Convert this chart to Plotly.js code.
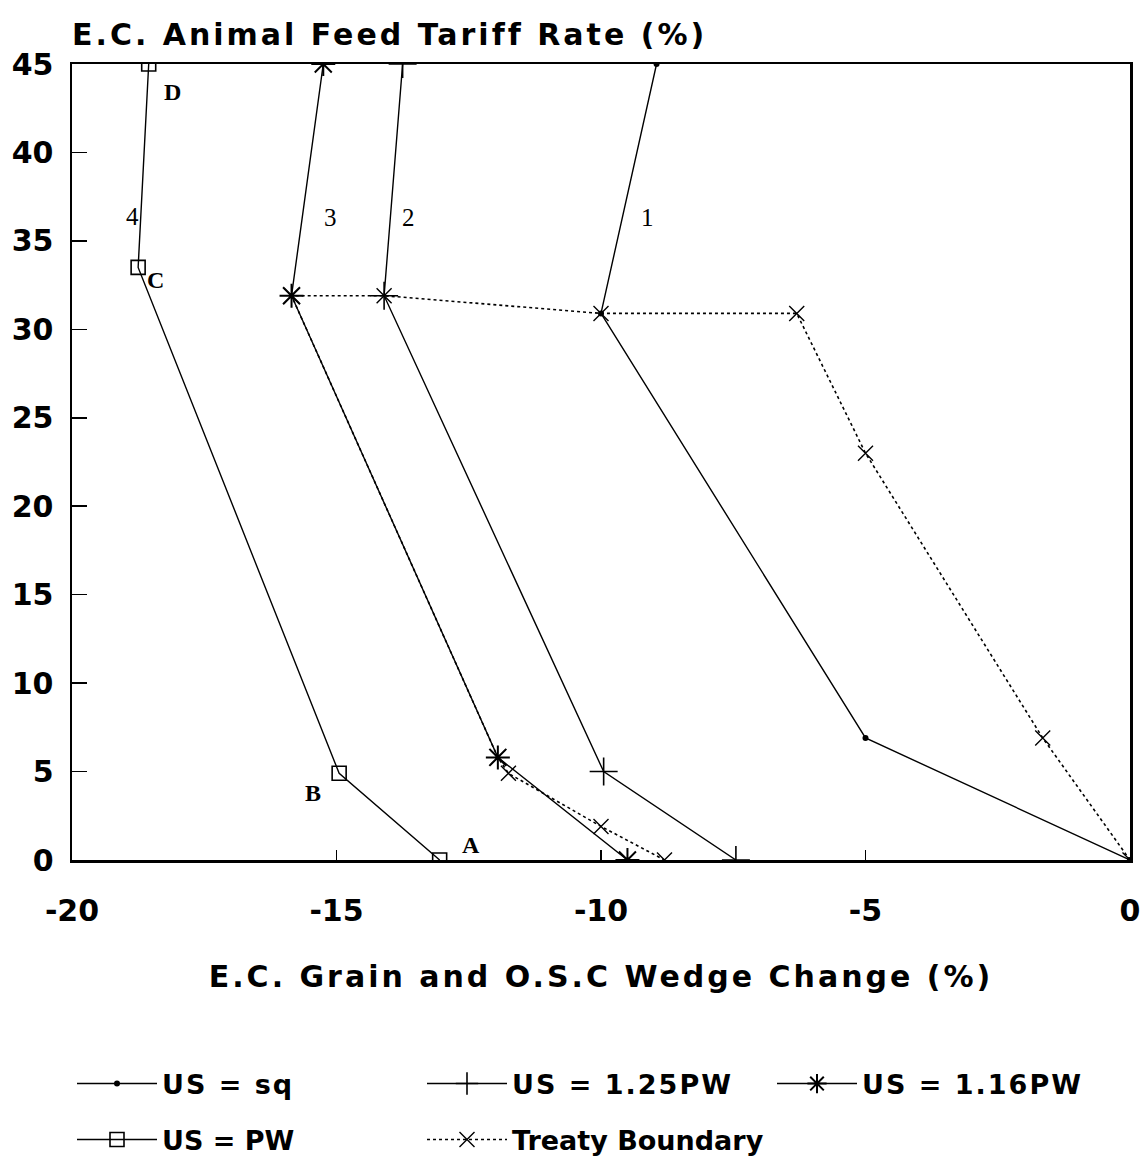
<!DOCTYPE html>
<html>
<head>
<meta charset="utf-8">
<script src="https://cdn.plot.ly/plotly-3.0.1.min.js"></script>
<style>
  html, body { margin: 0; padding: 0; background: #ffffff; }
  #chart { width: 1141px; height: 1162px; }
  #chart text.gtitle, #chart text.xtitle { letter-spacing: 3px; }
  #chart text.legendtext { letter-spacing: 2px; }
</style>
</head>
<body>
<div id="chart"></div>
<script>
// ---- Data ----
const seriesNames = ["US = sq", "US = 1.25PW", "US = 1.16PW", "US = PW", "Treaty Boundary"];

const sqX = [0, -5, -10, -8.95];
const sqY = [0, 6.9, 30.9, 45];

const pw125X = [-7.45, -9.95, -14.1, -13.75];
const pw125Y = [0, 5, 31.9, 45];

const pw116X = [-9.5, -11.95, -15.85, -15.25];
const pw116Y = [0, 5.8, 31.9, 45];

const pwX = [-13.05, -14.95, -18.75, -18.55];
const pwY = [0, 4.9, 33.5, 45];

const treatyX = [0, -1.65, -5, -6.3, -10, -14.1, -15.85, -11.95, -11.75, -10, -8.8];
const treatyY = [0, 6.9, 23, 30.9, 30.9, 31.9, 31.9, 5.8, 4.9, 1.9, 0];

const pointLabels = ["A", "B", "C", "D"];
const pointLabelX = [-12.45, -15.45, -18.43, -18.1];
const pointLabelY = [0.85, 3.8, 32.8, 43.4];

const curveLabels = ["1", "2", "3", "4"];
const curveLabelX = [-9.13, -13.63, -15.12, -18.85];
const curveLabelY = [36.3, 36.3, 36.3, 36.4];

const xTickVals = [-20, -15, -10, -5, 0];
const yTickVals = [0, 5, 10, 15, 20, 25, 30, 35, 40, 45];

// ---- Traces ----
const lineW = 1.4;
const traces = [
  { x: sqX, y: sqY, name: seriesNames[0], mode: "lines+markers", legend: "legend",
    line: { color: "#000", width: lineW },
    marker: { symbol: "circle", size: 6, color: "#000" } },
  { x: pw125X, y: pw125Y, name: seriesNames[1], mode: "lines+markers", legend: "legend",
    line: { color: "#000", width: lineW },
    marker: { symbol: "cross-thin-open", size: 20, color: "#000", line: { color: "#000", width: 1.6 } } },
  { x: pw116X, y: pw116Y, name: seriesNames[2], mode: "lines+markers", legend: "legend",
    line: { color: "#000", width: lineW },
    marker: { symbol: "asterisk-open", size: 20, color: "#000", line: { color: "#000", width: 2 } } },
  { x: pwX, y: pwY, name: seriesNames[3], mode: "lines+markers", legend: "legend2",
    line: { color: "#000", width: lineW },
    marker: { symbol: "square-open", size: 14, color: "#000", line: { color: "#000", width: 1.6 } } },
  { x: treatyX, y: treatyY, name: seriesNames[4], mode: "lines+markers", legend: "legend2",
    line: { color: "#000", width: 1.6, dash: "dot" },
    marker: { symbol: "x-thin-open", size: 15, color: "#000", line: { color: "#000", width: 1.4 } } }
];

// ---- Annotations (text labels) ----
const annotations = [];
pointLabels.forEach((t, i) => annotations.push({
  x: pointLabelX[i], y: pointLabelY[i], xref: "x", yref: "y", text: "<b>" + t + "</b>",
  showarrow: false, font: { family: "Liberation Serif, serif", size: 24, color: "#000" }
}));
curveLabels.forEach((t, i) => annotations.push({
  x: curveLabelX[i], y: curveLabelY[i], xref: "x", yref: "y", text: t,
  showarrow: false, font: { family: "Liberation Serif, serif", size: 25, color: "#000" }
}));

const boldFont = "DejaVu Sans, sans-serif";
const tickFont = { family: boldFont, size: 30, color: "#000", weight: "bold" };
const layout = {
  width: 1141, height: 1162,
  paper_bgcolor: "#fff", plot_bgcolor: "#fff",
  margin: { l: 72, r: 11, t: 64, b: 302 },
  title: {
    text: "E.C. Animal Feed Tariff Rate (%)",
    x: 0, xref: "paper", xanchor: "left",
    y: 1 - 34 / 1162, yref: "container", yanchor: "middle",
    font: { family: boldFont, size: 30, color: "#000", weight: "bold" }
  },
  xaxis: {
    range: [-20, 0], tickvals: xTickVals, ticktext: xTickVals.map(String),
    ticks: "inside", ticklen: 10, tickwidth: 1.5, tickcolor: "#000",
    ticklabelstandoff: 22,
    showline: true, mirror: true, linecolor: "#000", linewidth: 2.5,
    showgrid: false, zeroline: false, tickfont: tickFont,
    title: { text: "E.C. Grain and O.S.C Wedge Change (%)", standoff: 40,
      font: { family: boldFont, size: 30, color: "#000", weight: "bold" } }
  },
  yaxis: {
    range: [0, 45], tickvals: yTickVals, ticktext: yTickVals.map(String),
    ticks: "inside", ticklen: 15, tickwidth: 1.5, tickcolor: "#000",
    ticklabelstandoff: 10,
    showline: true, mirror: true, linecolor: "#000", linewidth: 2.5,
    showgrid: false, zeroline: false, tickfont: tickFont
  },
  legend: {
    orientation: "h", x: 0, xanchor: "left", y: 1 - 1084 / 1162, yref: "container", yanchor: "middle",
    entrywidth: 255, entrywidthmode: "pixels", itemwidth: 80,
    font: { family: boldFont, size: 27, color: "#000", weight: "bold" }, bgcolor: "rgba(0,0,0,0)"
  },
  legend2: {
    orientation: "h", x: 0, xanchor: "left", y: 1 - 1140 / 1162, yref: "container", yanchor: "middle",
    entrywidth: 255, entrywidthmode: "pixels", itemwidth: 80,
    font: { family: boldFont, size: 27, color: "#000", weight: "bold" }, bgcolor: "rgba(0,0,0,0)"
  },
  showlegend: true,
  annotations: annotations
};

Plotly.newPlot("chart", traces, layout, { displayModeBar: false, staticPlot: true });
</script>
</body>
</html>
